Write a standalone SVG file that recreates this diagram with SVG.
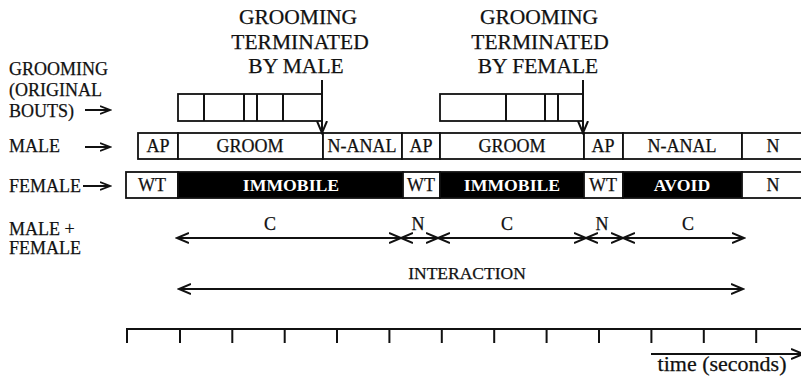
<svg xmlns="http://www.w3.org/2000/svg" width="801" height="381" viewBox="0 0 801 381" font-family="'Liberation Serif', 'DejaVu Serif', serif">
<defs>
<marker id="ah" markerWidth="14" markerHeight="12" refX="12" refY="6" orient="auto-start-reverse" markerUnits="userSpaceOnUse">
<path d="M0,1 L12,6 L0,11" fill="none" stroke="#111" stroke-width="2"/>
</marker>
<marker id="ahs" markerWidth="12" markerHeight="10" refX="10" refY="5" orient="auto" markerUnits="userSpaceOnUse">
<path d="M0,1 L10,5 L0,9" fill="none" stroke="#111" stroke-width="1.8"/>
</marker>
</defs>
<style>
text{font-family:'Liberation Serif','DejaVu Serif',serif;fill:#111;stroke:#111;stroke-width:0.25}
.t{font-size:21.5px;text-anchor:middle}
.l{font-size:18px}
.b{font-size:18px;text-anchor:middle}
.w{font-size:17.7px;text-anchor:middle;font-weight:bold;fill:#fff;stroke:none}
.box{fill:#fff;stroke:#111;stroke-width:1.8}
.blk{fill:#000;stroke:#111;stroke-width:1.8}
.ln{fill:none;stroke:#111;stroke-width:2}
</style>
<rect width="801" height="381" fill="#fff"/>

<g id="title-male">
<text class="t" x="298" y="24">GROOMING</text>
<text class="t" x="300" y="49">TERMINATED</text>
<text class="t" x="296" y="73">BY MALE</text>
</g>
<g id="title-female">
<text class="t" x="539" y="24">GROOMING</text>
<text class="t" x="540" y="49">TERMINATED</text>
<text class="t" x="538" y="73">BY FEMALE</text>
</g>

<g id="labels">
<text class="l" x="9" y="75">GROOMING</text>
<text class="l" x="9" y="96">(ORIGINAL</text>
<text class="l" x="9" y="117">BOUTS)</text>
<text class="l" x="9" y="152">MALE</text>
<text class="l" x="9" y="192">FEMALE</text>
<text class="l" x="9" y="235">MALE +</text>
<text class="l" x="9" y="254">FEMALE</text>
</g>

<g id="bouts1">
<rect class="box" x="178" y="94" width="144" height="27"/>
<path class="ln" d="M204,94V121M244,94V121M257,94V121M283,94V121" stroke-width="1.8"/>
</g>
<g id="bouts2">
<rect class="box" x="440" y="94" width="143" height="27"/>
<path class="ln" d="M506,94V121M545,94V121M558,94V121" stroke-width="1.8"/>
</g>

<g id="male-row">
<rect class="box" x="138" y="133" width="40" height="26"/>
<text class="b" x="158" y="152">AP</text>
<rect class="box" x="178" y="133" width="145" height="26"/>
<text class="b" x="250" y="152">GROOM</text>
<rect class="box" x="323" y="133" width="79" height="26"/>
<text class="b" x="362" y="152">N-ANAL</text>
<rect class="box" x="402" y="133" width="38" height="26"/>
<text class="b" x="421" y="152">AP</text>
<rect class="box" x="440" y="133" width="144" height="26"/>
<text class="b" x="512" y="152">GROOM</text>
<rect class="box" x="584" y="133" width="39" height="26"/>
<text class="b" x="603" y="152">AP</text>
<rect class="box" x="623" y="133" width="119" height="26"/>
<text class="b" x="682" y="152">N-ANAL</text>
<rect class="box" x="742" y="133" width="62" height="26"/>
<text class="b" x="773" y="152">N</text>
</g>

<g id="female-row">
<rect class="box" x="126" y="172" width="52" height="26"/>
<text class="b" x="152" y="191">WT</text>
<rect class="blk" x="178" y="172" width="225" height="26"/>
<text class="w" x="291" y="191">IMMOBILE</text>
<rect class="box" x="403" y="172" width="37" height="26"/>
<text class="b" x="421" y="191">WT</text>
<rect class="blk" x="440" y="172" width="144" height="26"/>
<text class="w" x="512" y="191">IMMOBILE</text>
<rect class="box" x="584" y="172" width="39" height="26"/>
<text class="b" x="603" y="191">WT</text>
<rect class="blk" x="623" y="172" width="119" height="26"/>
<text class="w" x="682" y="191">AVOID</text>
<rect class="box" x="742" y="172" width="62" height="26"/>
<text class="b" x="773" y="191">N</text>
</g>

<g id="segment-labels">
<text class="b" x="270" y="230">C</text>
<text class="b" x="418" y="230">N</text>
<text class="b" x="507" y="230">C</text>
<text class="b" x="602" y="230">N</text>
<text class="b" x="688" y="230">C</text>
<text class="b" x="467" y="279" style="font-size:17.5px">INTERACTION</text>
<text x="722" y="371" style="font-size:22px;text-anchor:middle">time (seconds)</text>
</g>

<g id="connectors">
<line class="ln" x1="322" y1="80" x2="322" y2="133" marker-end="url(#ah)"/>
<line class="ln" x1="583" y1="80" x2="583" y2="133" marker-end="url(#ah)"/>
<line class="ln" x1="85" y1="110" x2="110" y2="110" marker-end="url(#ahs)"/>
<line class="ln" x1="85" y1="147" x2="110" y2="147" marker-end="url(#ahs)"/>
<line class="ln" x1="83" y1="186" x2="110" y2="186" marker-end="url(#ahs)"/>
<line class="ln" x1="177" y1="238" x2="401" y2="238" marker-start="url(#ah)" marker-end="url(#ah)"/>
<line class="ln" x1="401" y1="238" x2="438" y2="238" marker-start="url(#ah)" marker-end="url(#ah)"/>
<line class="ln" x1="438" y1="238" x2="586" y2="238" marker-start="url(#ah)" marker-end="url(#ah)"/>
<line class="ln" x1="586" y1="238" x2="623" y2="238" marker-start="url(#ah)" marker-end="url(#ah)"/>
<line class="ln" x1="623" y1="238" x2="744" y2="238" marker-start="url(#ah)" marker-end="url(#ah)"/>
<line class="ln" x1="179" y1="289" x2="743" y2="289" stroke-width="1.6" marker-start="url(#ah)" marker-end="url(#ah)"/>
<line class="ln" x1="651" y1="354" x2="803" y2="354" stroke-width="1.6" marker-end="url(#ah)"/>
</g>

<g id="timeline">
<path class="ln" d="M127,343V329H801"/>
<path class="ln" d="M180,329V343M232.3,329V343M284.7,329V343M337,329V343M389.4,329V343M441.8,329V343M494.2,329V343M546.6,329V343M599,329V343M651.4,329V343M703.8,329V343M756.2,329V343"/>
</g>
</svg>
